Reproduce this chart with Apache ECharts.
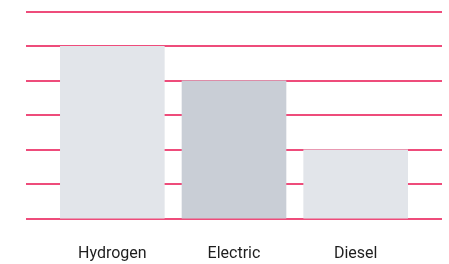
<!DOCTYPE html>
<html>
<head>
<meta charset="utf-8">
<script src="https://cdn.jsdelivr.net/npm/echarts@6/dist/echarts.min.js"></script>
<style>
  html, body { margin: 0; padding: 0; background: #fff; }
  #chart { width: 449px; height: 264px; }
</style>
</head>
<body>
<div id="chart"></div>
<script>
var categories = ['Hydrogen', 'Electric', 'Diesel'];
var values = [5, 4, 2];
var barColors = ['#e2e5ea', '#c9ced6', '#e2e5ea'];
var yMax = 6;

var chart = echarts.init(document.getElementById('chart'));

var option = {
    animation: false,
    grid: [
        // wide grid only for the red lines
        { left: 26, right: 7, top: 11.5, bottom: 45.5 },
        // narrower grid that holds the bars
        { left: 51.5, width: 365, top: 11.5, bottom: 45.5 }
    ],
    xAxis: [
        { gridIndex: 0, type: 'category', data: categories, show: false },
        {
            gridIndex: 1,
            type: 'category',
            data: categories,
            axisLine: { show: false },
            axisTick: { show: false },
            axisLabel: {
                margin: 27,
                color: '#1e1e1e',
                fontFamily: 'Roboto',
                fontSize: 16
            }
        }
    ],
    yAxis: [
        {
            gridIndex: 0,
            type: 'value',
            min: 0,
            max: yMax,
            interval: 1,
            axisLine: { show: false },
            axisTick: { show: false },
            axisLabel: { show: false },
            splitLine: { lineStyle: { color: '#e8104f', width: 1.5 } }
        },
        {
            gridIndex: 1,
            type: 'value',
            min: 0,
            max: yMax,
            interval: 1,
            show: false,
            splitLine: { show: false }
        }
    ],
    series: [{
        type: 'bar',
        xAxisIndex: 1,
        yAxisIndex: 1,
        barWidth: '86%',
        z: 5,
        data: values.map(function(v, i) {
            return { value: v, itemStyle: { color: barColors[i] } };
        })
    }]
};

chart.setOption(option);
</script>
</body>
</html>
